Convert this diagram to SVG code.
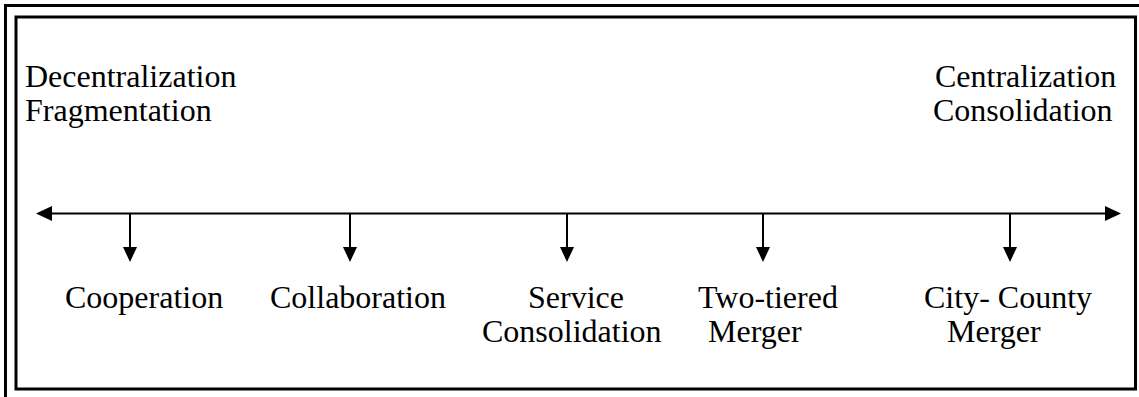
<svg xmlns="http://www.w3.org/2000/svg" width="1139" height="397" viewBox="0 0 1139 397">
  <style>
    .frame { fill: none; stroke: #000; stroke-width: 3; }
    .axis { stroke: #000; stroke-width: 2; fill: none; }
    .head { fill: #000; }
    .label { font-family: "Liberation Serif", "Times New Roman", serif; font-size: 32px; fill: #000; }
  </style>

  <rect width="1139" height="397" fill="#fff"/>

  <!-- double frame: outer edge runs off the page on the right and bottom -->
  <g id="frame">
    <path class="frame" d="M5.5,397 V5.5 H1139"/>
    <rect class="frame" x="16" y="17" width="1119.5" height="372"/>
  </g>

  <!-- end-point labels -->
  <g id="decentralization">
    <text class="label" x="25" y="87">Decentralization</text>
    <text class="label" x="25" y="121">Fragmentation</text>
  </g>
  <g id="centralization">
    <text class="label" x="935" y="87">Centralization</text>
    <text class="label" x="933" y="121">Consolidation</text>
  </g>

  <!-- continuum axis and drop arrows -->
  <g id="connectors">
    <line class="axis" x1="50" y1="213.5" x2="1108" y2="213.5"/>
    <polygon class="head" points="36,213.5 52,206 52,221"/>
    <polygon class="head" points="1121,213.5 1105,206 1105,221"/>

    <line class="axis" x1="130" y1="213.5" x2="130" y2="249"/>
    <polygon class="head" points="123,247 137,247 130,262"/>

    <line class="axis" x1="350" y1="213.5" x2="350" y2="249"/>
    <polygon class="head" points="343,247 357,247 350,262"/>

    <line class="axis" x1="567" y1="213.5" x2="567" y2="249"/>
    <polygon class="head" points="560,247 574,247 567,262"/>

    <line class="axis" x1="763" y1="213.5" x2="763" y2="249"/>
    <polygon class="head" points="756,247 770,247 763,262"/>

    <line class="axis" x1="1010" y1="213.5" x2="1010" y2="249"/>
    <polygon class="head" points="1003,247 1017,247 1010,262"/>
  </g>

  <!-- stages along the continuum -->
  <g id="cooperation">
    <text class="label" x="65" y="308">Cooperation</text>
  </g>
  <g id="collaboration">
    <text class="label" x="270" y="308">Collaboration</text>
  </g>
  <g id="service-consolidation">
    <text class="label" x="528" y="308">Service</text>
    <text class="label" x="482" y="342">Consolidation</text>
  </g>
  <g id="two-tiered-merger">
    <text class="label" x="698" y="308">Two-tiered</text>
    <text class="label" x="708" y="342">Merger</text>
  </g>
  <g id="city-county-merger">
    <text class="label" x="924" y="308">City- County</text>
    <text class="label" x="947" y="342">Merger</text>
  </g>
</svg>
